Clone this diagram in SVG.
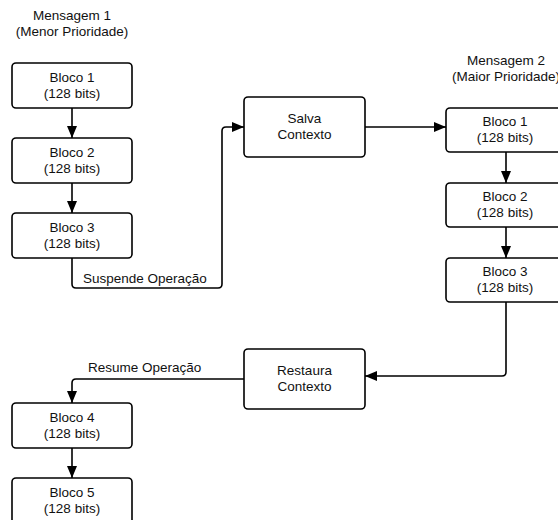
<svg xmlns="http://www.w3.org/2000/svg" width="558" height="520" viewBox="0 0 558 520">
<style>
.box{fill:#fff;stroke:#000;stroke-width:1.6}
.con{fill:none;stroke:#000;stroke-width:1.6}
text{font-family:"Liberation Sans",Arial,sans-serif;font-size:13.5px;fill:#111;text-anchor:middle}
.lbl{text-anchor:start}
</style>
<defs>
<marker id="ah" viewBox="0 0 12 10" refX="12" refY="5" markerWidth="12" markerHeight="10" markerUnits="userSpaceOnUse" orient="auto">
<path d="M0,0 L12,5 L0,10 Z" fill="#000"/>
</marker>
</defs>
<rect width="558" height="520" fill="#fff"/>
<g id="title1"><text x="72" y="20">Mensagem 1</text><text x="72" y="36">(Menor Prioridade)</text></g>
<g id="title2"><text x="506" y="65">Mensagem 2</text><text x="506" y="81">(Maior Prioridade)</text></g>
<g id="m1b1"><rect class="box" x="12" y="63" width="120" height="45" rx="4"/><text x="72" y="82">Bloco 1</text><text x="72" y="98">(128 bits)</text></g>
<g id="m1b2"><rect class="box" x="12" y="138" width="120" height="45" rx="4"/><text x="72" y="157">Bloco 2</text><text x="72" y="173">(128 bits)</text></g>
<g id="m1b3"><rect class="box" x="12" y="213" width="120" height="45" rx="4"/><text x="72" y="232">Bloco 3</text><text x="72" y="248">(128 bits)</text></g>
<g id="salva"><rect class="box" x="244" y="97" width="121" height="60" rx="4"/><text x="304.5" y="123">Salva</text><text x="304.5" y="139">Contexto</text></g>
<g id="m2b1"><rect class="box" x="446" y="108" width="120" height="44" rx="4"/><text x="505" y="126">Bloco 1</text><text x="505" y="142">(128 bits)</text></g>
<g id="m2b2"><rect class="box" x="446" y="183" width="120" height="44" rx="4"/><text x="505" y="201">Bloco 2</text><text x="505" y="217">(128 bits)</text></g>
<g id="m2b3"><rect class="box" x="446" y="258" width="120" height="44" rx="4"/><text x="505" y="276">Bloco 3</text><text x="505" y="292">(128 bits)</text></g>
<g id="restaura"><rect class="box" x="244" y="349" width="121" height="60" rx="4"/><text x="304.5" y="375">Restaura</text><text x="304.5" y="391">Contexto</text></g>
<g id="m1b4"><rect class="box" x="12" y="403" width="120" height="45" rx="4"/><text x="72" y="422">Bloco 4</text><text x="72" y="438">(128 bits)</text></g>
<g id="m1b5"><rect class="box" x="12" y="478" width="120" height="46" rx="4"/><text x="72" y="497">Bloco 5</text><text x="72" y="513">(128 bits)</text></g>
<g id="connectors">
<path class="con" d="M72,108 V138" marker-end="url(#ah)"/>
<path class="con" d="M72,183 V213" marker-end="url(#ah)"/>
<path class="con" d="M72,258 V284 Q72,288 76,288 H218 Q222,288 222,284 V131 Q222,127 226,127 H244" marker-end="url(#ah)"/>
<text class="lbl" x="83" y="283">Suspende Operação</text>
<path class="con" d="M365,127 H446" marker-end="url(#ah)"/>
<path class="con" d="M506,152 V183" marker-end="url(#ah)"/>
<path class="con" d="M506,227 V258" marker-end="url(#ah)"/>
<path class="con" d="M506,302 V372 Q506,376 502,376 H365" marker-end="url(#ah)"/>
<path class="con" d="M244,379 H76 Q72,379 72,383 V403" marker-end="url(#ah)"/>
<text class="lbl" x="88" y="372">Resume Operação</text>
<path class="con" d="M72,448 V478" marker-end="url(#ah)"/>
</g>
</svg>
